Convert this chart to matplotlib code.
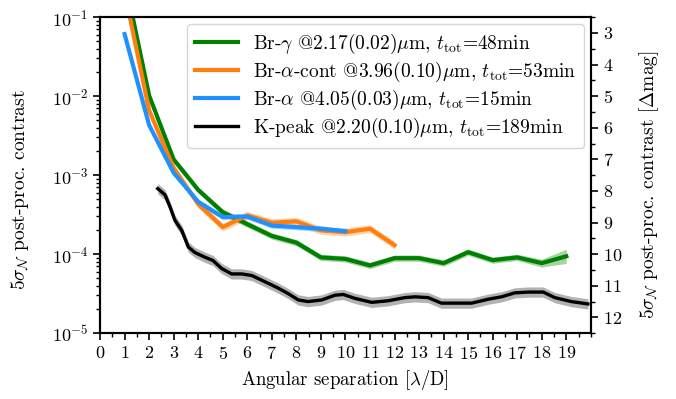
import numpy as np
import matplotlib
matplotlib.use('Agg')
import matplotlib.pyplot as plt
from matplotlib.ticker import MultipleLocator, LogLocator, NullFormatter

plt.rcParams['font.family'] = 'serif'
plt.rcParams['font.serif'] = ['cmr10', 'DejaVu Serif']
plt.rcParams['mathtext.fontset'] = 'cm'
plt.rcParams['axes.formatter.use_mathtext'] = True
plt.rcParams['font.size'] = 13

# contrast curves
sep_brg = [1, 2, 3, 4, 5, 6, 7, 8, 9, 10, 11, 12, 13, 14, 15, 16, 17, 18, 19]
con_brg = [3.1e-1, 1.02e-2, 1.58e-3, 6.5e-4, 3.4e-4, 2.4e-4, 1.7e-4, 1.4e-4, 9.1e-5, 8.7e-5,
           7.2e-5, 8.9e-5, 8.9e-5, 7.7e-5, 1.06e-4, 8.4e-5, 9.1e-5, 7.7e-5, 9.4e-5]
err_brg = [0.04] * 17 + [0.05, 0.09]

sep_bra_cont = [1, 2, 3, 4, 5, 6, 7, 8, 9, 10, 11, 12]
con_bra_cont = [2.1e-1, 6.6e-3, 1.23e-3, 4.3e-4, 2.2e-4, 3.1e-4, 2.5e-4, 2.6e-4, 2.0e-4, 1.9e-4,
                2.1e-4, 1.3e-4]
err_bra_cont = [0.05] * 12

sep_bra = [1, 2, 3, 4, 5, 6, 7, 8, 9, 10]
con_bra = [6.1e-2, 4.3e-3, 1.07e-3, 4.6e-4, 2.95e-4, 3.0e-4, 2.3e-4, 2.2e-4, 2.1e-4, 1.95e-4]
err_bra = [0.035] * 10

sep_k = [2.35, 2.65, 2.85, 3.05, 3.33, 3.6, 3.87, 4.28, 4.6, 4.95, 5.36, 5.77, 6.18, 6.59,
         6.86, 7.26, 7.67, 8.08, 8.48, 9.03, 9.57, 9.91, 10.39, 11.07, 11.74, 12.42, 12.83,
         13.37, 13.91, 14.6, 15.14, 15.82, 16.36, 16.9, 17.45, 18.06, 18.53, 19.2, 19.88]
logcon_k = [-3.17, -3.25, -3.40, -3.57, -3.70, -3.91, -3.98, -4.04, -4.08, -4.18, -4.25, -4.25,
            -4.27, -4.33, -4.37, -4.43, -4.50, -4.58, -4.60, -4.58, -4.52, -4.51, -4.56, -4.61,
            -4.59, -4.55, -4.54, -4.55, -4.62, -4.62, -4.62, -4.57, -4.54, -4.49, -4.48, -4.48,
            -4.55, -4.60, -4.63]
con_k = list(10 ** np.array(logcon_k))
err_k = [0.065] * len(sep_k)

labels = [r'Br-$\gamma$ @2.17(0.02)$\mu$m, $t_\mathrm{tot}$=48min',
          r'Br-$\alpha$-cont @3.96(0.10)$\mu$m, $t_\mathrm{tot}$=53min',
          r'Br-$\alpha$ @4.05(0.03)$\mu$m, $t_\mathrm{tot}$=15min',
          r'K-peak @2.20(0.10)$\mu$m, $t_\mathrm{tot}$=189min']

fig = plt.figure(figsize=(6.76, 3.99), dpi=100)
ax = fig.add_axes([0.148, 0.165, 0.726, 0.792])

series = [(sep_brg, con_brg, err_brg, 'green', 'green', 3.0),
          (sep_bra_cont, con_bra_cont, err_bra_cont, '#ff7f0e', '#ff7f0e', 3.0),
          (sep_bra, con_bra, err_bra, 'dodgerblue', 'dodgerblue', 3.0),
          (sep_k, con_k, err_k, 'black', 'gray', 2.4)]

for (x, y, e, c, fc, lw), lab in zip(series, labels):
    x = np.array(x)
    y = np.array(y)
    f = 10 ** np.array(e)
    ax.fill_between(x, y / f, y * f, color=fc, alpha=0.35 if c != 'black' else 0.6, lw=0)
    ax.plot(x, y, color=c, lw=lw, label=lab)

ax.set_yscale('log')
ax.set_ylim(1e-5, 1e-1)
ax.set_xlim(0, 20)
ax.xaxis.set_major_locator(MultipleLocator(1))
ax.xaxis.set_minor_locator(MultipleLocator(0.5))
ax.set_xticks(range(0, 20))
ax.yaxis.set_minor_locator(LogLocator(base=10, subs=np.arange(2, 10)))
ax.yaxis.set_minor_formatter(NullFormatter())
ax.set_xlabel(r'Angular separation [$\lambda$/D]', fontsize=13.5)
ax.set_ylabel(r'$5\sigma_\mathcal{N}$ post-proc. contrast', fontsize=14)
ax.yaxis.set_label_coords(-0.14, 0.455)
ax.tick_params(which='major', length=5, width=1.2)
ax.tick_params(which='minor', length=3, width=1.0)
for s in ax.spines.values():
    s.set_linewidth(1.5)

ax2 = ax.twinx()
ax2.set_ylim(2.5, 12.5)
ax2.invert_yaxis()
ax2.yaxis.set_major_locator(MultipleLocator(1))
ax2.yaxis.set_minor_locator(MultipleLocator(0.5))
ax2.set_ylabel(r'$5\sigma_\mathcal{N}$ post-proc. contrast [$\Delta$mag]', fontsize=14)
ax2.yaxis.set_label_coords(1.095, 0.47)
ax2.tick_params(which='major', length=5, width=1.2)
ax2.tick_params(which='minor', length=3, width=1.0)
for s in ax2.spines.values():
    s.set_linewidth(1.5)

leg = ax.legend(loc='upper right', fontsize=14, handlelength=2.2, borderaxespad=0.35,
                labelspacing=0.2)
leg.get_frame().set_edgecolor('#cccccc')

fig.savefig('out.png', dpi=100)
